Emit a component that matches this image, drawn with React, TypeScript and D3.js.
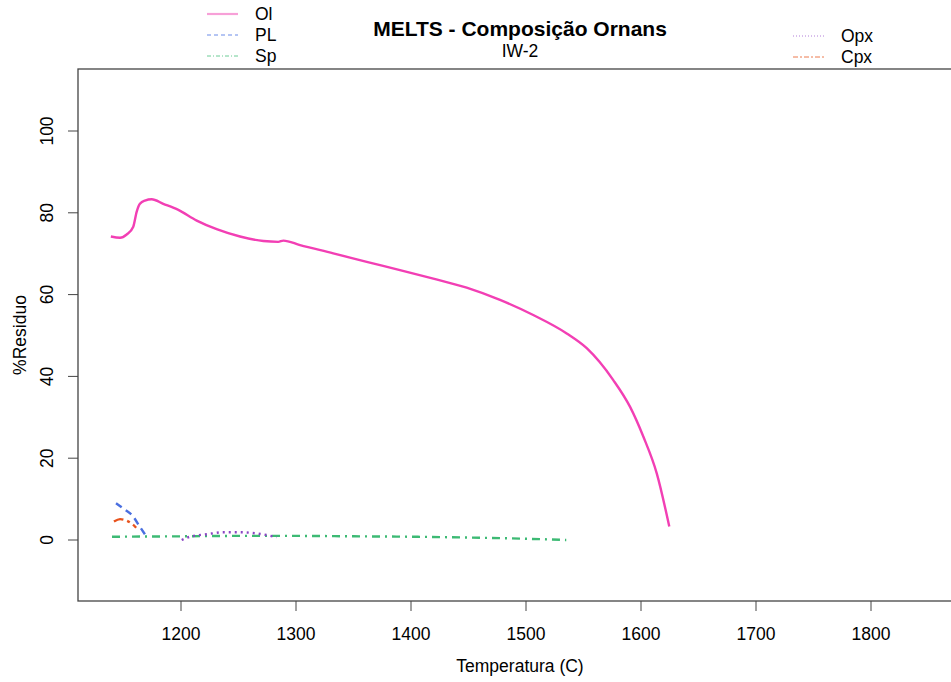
import React from "react";
import * as d3 from "d3";

const olT = [1139, 1147, 1152.8, 1158.5, 1161.5, 1164.3, 1168.7, 1174.5, 1184.6, 1197.7, 1213.7, 1231, 1251.3, 1271.6, 1284.6, 1289, 1303.5, 1332.4, 1361.5, 1390.4, 1419.4, 1448.4, 1477.4, 1506.3, 1535.4, 1552.8, 1575.9, 1590.4, 1602, 1613.7, 1624.6];
const olV = [74.2, 73.9, 74.7, 76.6, 80.3, 82.2, 83.0, 83.3, 82.2, 80.7, 78.1, 76.0, 74.2, 73.1, 72.9, 73.2, 72.1, 70.1, 68.0, 66.0, 63.9, 61.7, 58.7, 55.0, 50.5, 46.9, 39.1, 32.6, 25.3, 16.3, 3.3];

const plT = [1143.5, 1149.8, 1158.5, 1164.3, 1169.6];
const plV = [9.0, 7.7, 5.7, 3.2, 1.0];

const spT = [1140, 1200, 1250, 1300, 1350, 1400, 1450, 1500, 1535];
const spV = [0.8, 0.9, 1.0, 1.0, 0.9, 0.8, 0.6, 0.3, 0.0];

const opxT = [1200.6, 1207.8, 1222.3, 1236.8, 1251.3, 1265.8, 1283.2];
const opxV = [0.0, 0.8, 1.4, 1.9, 1.9, 1.6, 0.7];

const cpxT = [1141.7, 1147, 1152.8, 1158.5, 1161];
const cpxV = [4.5, 5.1, 4.7, 3.7, 3.0];

const xTicks = [1200, 1300, 1400, 1500, 1600, 1700, 1800];
const yTicks = [0, 20, 40, 60, 80, 100];

const FONT = "'Liberation Sans', Arial, Helvetica, sans-serif";

type Series = { name: string; t: number[]; v: number[]; color: string; legendColor: string; dash: string; lw: number; legendDash: string; legendLw: number; smooth: boolean };

const seriesList: Series[] = [
  { name: "Ol", t: olT, v: olV, color: "#f23fb4", legendColor: "#f7a0d8", dash: "", lw: 2.4, legendDash: "", legendLw: 2.2, smooth: true },
  { name: "PL", t: plT, v: plV, color: "#4a6fe0", legendColor: "#6a8be8", dash: "7,5", lw: 2.4, legendDash: "4,3", legendLw: 1, smooth: true },
  { name: "Sp", t: spT, v: spV, color: "#3dba74", legendColor: "#6ccc96", dash: "8,5,2,5", lw: 2.4, legendDash: "4,2,1,2", legendLw: 1, smooth: true },
  { name: "Opx", t: opxT, v: opxV, color: "#8a45c4", legendColor: "#b27fd8", dash: "2,4", lw: 2.4, legendDash: "1,2", legendLw: 1, smooth: true },
  { name: "Cpx", t: cpxT, v: cpxV, color: "#e8521c", legendColor: "#ec7a4e", dash: "10,4,3,4", lw: 2.4, legendDash: "5,2,2,2", legendLw: 1, smooth: true },
];

const FS = 17.5;

export default function App() {
  const W = 951, H = 682;
  const left = 78, top = 69, bottom = 601, right = 962;
  const x = d3.scaleLinear().domain([1200, 1800]).range([181, 871]);
  const y = d3.scaleLinear().domain([0, 100]).range([540, 131]);

  const lineSmooth = d3.line<[number, number]>().x(d => x(d[0])).y(d => y(d[1])).curve(d3.curveMonotoneX);

  const leftLegend = seriesList.slice(0, 3);
  const rightLegend = seriesList.slice(3);

  return (
    <svg width={W} height={H} style={{ position: "absolute", left: 0, top: 0, background: "#fff" }} fontFamily={FONT}>
      <rect x={0} y={0} width={W} height={H} fill="#fff" />
      {/* title */}
      <text x={520} y={36} textAnchor="middle" fontSize={21} fontWeight="bold" fill="#000">MELTS - Composição Ornans</text>
      <text x={520} y={57} textAnchor="middle" fontSize={FS} fill="#000">IW-2</text>

      {/* box */}
      <rect x={left} y={top} width={right - left} height={bottom - top} fill="none" stroke="#444" strokeWidth={1.3} />

      {/* x axis */}
      {xTicks.map(t => (
        <g key={t}>
          <line x1={x(t)} x2={x(t)} y1={bottom} y2={bottom + 10} stroke="#444" strokeWidth={1} />
          <text x={x(t)} y={640} textAnchor="middle" fontSize={FS} fill="#000">{t}</text>
        </g>
      ))}
      <text x={520} y={672} textAnchor="middle" fontSize={FS} fill="#000">Temperatura (C)</text>

      {/* y axis */}
      {yTicks.map(v => (
        <g key={v}>
          <line x1={left} x2={left - 10} y1={y(v)} y2={y(v)} stroke="#444" strokeWidth={1} />
          <text transform={`translate(53,${y(v)}) rotate(-90)`} textAnchor="middle" fontSize={FS} fill="#000">{v}</text>
        </g>
      ))}
      <text transform={`translate(26,335) rotate(-90)`} textAnchor="middle" fontSize={FS} fill="#000">%Residuo</text>

      {/* series */}
      {seriesList.map(s => {
        const pts = s.t.map((t, i) => [t, s.v[i]] as [number, number]);
        return (
          <path key={s.name} d={lineSmooth(pts) || ""} fill="none" stroke={s.color} strokeWidth={s.lw} strokeDasharray={s.dash || undefined} strokeLinejoin="round" />
        );
      })}

      {/* legends */}
      {leftLegend.map((s, i) => {
        const yy = 14 + i * 21;
        return (
          <g key={s.name}>
            <line x1={207} x2={238} y1={yy} y2={yy} stroke={s.legendColor} strokeWidth={s.legendLw} strokeDasharray={s.legendDash || undefined} />
            <text x={255} y={yy + 6} fontSize={FS} fill="#000">{s.name}</text>
          </g>
        );
      })}
      {rightLegend.map((s, i) => {
        const yy = 36 + i * 21;
        return (
          <g key={s.name}>
            <line x1={793} x2={825} y1={yy} y2={yy} stroke={s.legendColor} strokeWidth={s.legendLw} strokeDasharray={s.legendDash || undefined} />
            <text x={841} y={yy + 6} fontSize={FS} fill="#000">{s.name}</text>
          </g>
        );
      })}
    </svg>
  );
}
